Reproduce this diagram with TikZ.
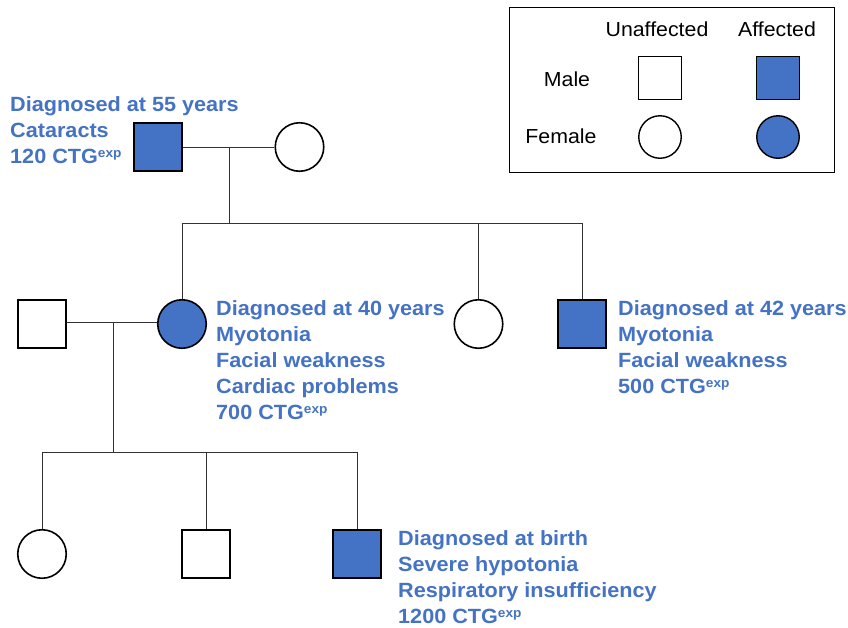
\documentclass[tikz,border=0pt]{standalone}
\usepackage{fontspec}
\setmainfont{Liberation Sans}[FakeStretch=1.05]
\definecolor{affblue}{HTML}{4472C4}
\definecolor{txtblue}{HTML}{4472C4}
\newcommand{\ctg}{CTG{\fontsize{13}{13}\selectfont\raisebox{5.5pt}{exp}}}
\begin{document}
\begin{tikzpicture}[x=1pt,y=-1pt,
  male/.style={rectangle, draw=black, line width=1.6pt, fill=white, minimum size=48.5pt, inner sep=0pt},
  female/.style={circle, draw=black, line width=1.6pt, fill=white, minimum size=48.5pt, inner sep=0pt},
  lmale/.style={male, line width=1.4pt, minimum size=42.5pt},
  lfemale/.style={female, line width=1.4pt, minimum size=42.5pt},
  aff/.style={fill=affblue},
  link/.style={line width=1pt, draw=black!80},
  lbl/.style={anchor=base west, inner sep=0pt, text=txtblue, font=\fontsize{20.6}{26}\selectfont\bfseries},
  leg/.style={anchor=base, inner sep=0pt, font=\fontsize{20.3}{22}\selectfont}]
\useasboundingbox (0,0) rectangle (848,627);
% legend
\node (legend) [draw=black, line width=1.5pt, minimum width=325pt, minimum height=165pt, inner sep=0pt] at (672,90) {};
\node[leg] (tu) at (657,36) {Unaffected};
\node[leg] (ta) at (777,36) {Affected};
\node[leg] (tm) at (567,86) {Male};
\node[leg] (tf) at (561,143) {Female};
\node[lmale] (lmu) at (660,78) {};
\node[lmale, aff] (lma) at (778,78) {};
\node[lfemale] (lfu) at (660,137) {};
\node[lfemale, aff] (lfa) at (778,137) {};
% generation I
\node[male, aff] (gf) at (158,147) {};
\node[female] (gm) at (299.5,147) {};
% generation II
\node[female, aff] (mo) at (182,324) {};
\node[female] (sis) at (478.5,324) {};
\node[male, aff] (bro) at (582,324) {};
\node[male] (hu) at (42,324) {};
% generation III
\node[female] (c1) at (42,554) {};
\node[male] (c2) at (206,554) {};
\node[male, aff] (c3) at (357,554) {};
% connectors
\coordinate (m1) at (229,147);
\coordinate (s1) at (229,223);
\draw[link] (gf.east) -- (gm.west);
\draw[link] (m1) -- (s1);
\draw[link] (mo.north |- s1) -- (bro.north |- s1);
\draw[link] (mo.north |- s1) -- (mo.north);
\draw[link] (sis.north |- s1) -- (sis.north);
\draw[link] (bro.north |- s1) -- (bro.north);
\coordinate (m2) at (113,322);
\coordinate (s2) at (113,452);
\draw[link] (hu.east |- m2) -- (mo.west |- m2);
\draw[link] (m2) -- (s2);
\draw[link] (c1.north |- s2) -- (c3.north |- s2);
\draw[link] (c1.north |- s2) -- (c1.north);
\draw[link] (c2.north |- s2) -- (c2.north);
\draw[link] (c3.north |- s2) -- (c3.north);
% labels
\node[lbl] (lgf) at (10,111) {\begin{tabular}[t]{@{}l@{}}Diagnosed at 55 years\\Cataracts\\120 \ctg\end{tabular}};
\node[lbl] (lmo) at (216,315) {\begin{tabular}[t]{@{}l@{}}Diagnosed at 40 years\\Myotonia\\Facial weakness\\Cardiac problems\\700 \ctg\end{tabular}};
\node[lbl] (lbro) at (618,315) {\begin{tabular}[t]{@{}l@{}}Diagnosed at 42 years\\Myotonia\\Facial weakness\\500 \ctg\end{tabular}};
\node[lbl] (lc3) at (398,545) {\begin{tabular}[t]{@{}l@{}}Diagnosed at birth\\Severe hypotonia\\Respiratory insufficiency\\1200 \ctg\end{tabular}};
\end{tikzpicture}
\end{document}
